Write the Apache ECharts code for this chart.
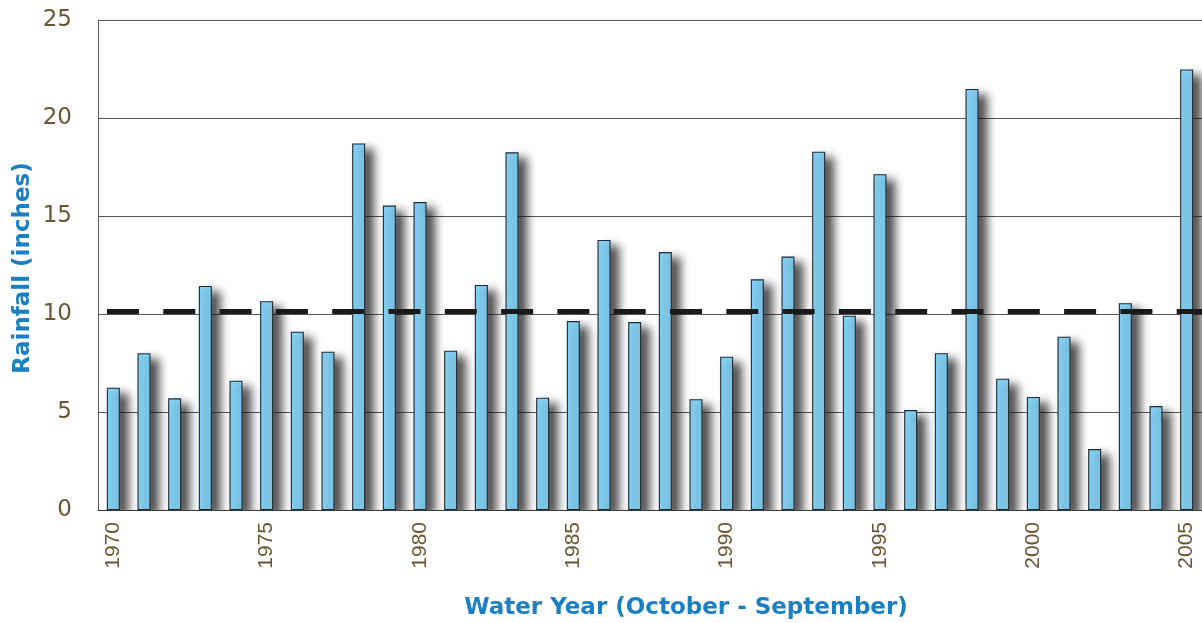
<!DOCTYPE html>
<html>
<head>
<meta charset="utf-8">
<title>Annual Rainfall by Water Year</title>
<script src="https://cdn.jsdelivr.net/npm/echarts@6/dist/echarts.min.js"></script>
<style>
  html, body { margin: 0; padding: 0; background: #ffffff; }
  #chart { width: 1202px; height: 623px; }
</style>
</head>
<body>
<div id="chart"></div>
<script>
// Water years (October - September)
const waterYears = [
  '1970','1971','1972','1973','1974','1975','1976','1977','1978','1979',
  '1980','1981','1982','1983','1984','1985','1986','1987','1988','1989',
  '1990','1991','1992','1993','1994','1995','1996','1997','1998','1999',
  '2000','2001','2002','2003','2004','2005'
];

// Total rainfall per water year, inches
const rainfallInches = [
  6.24, 8.00, 5.70, 11.43, 6.60, 10.65, 9.10, 8.08, 18.70, 15.53,
  15.71, 8.13, 11.48, 18.25, 5.73, 9.64, 13.78, 9.59, 13.16, 5.65,
  7.82, 11.77, 12.93, 18.28, 9.91, 17.13, 5.10, 8.00, 21.48, 6.70,
  5.77, 8.84, 3.11, 10.55, 5.30, 22.48
];

// Long-term average rainfall, inches
const averageRainfall = 10.12;

// Value axis range
const yMin = 0;
const yMax = 25;
const yStep = 5;

const tickColor = '#6b5634';
const titleColor = '#1b7fc4';

const chart = echarts.init(document.getElementById('chart'));

chart.setOption({
  backgroundColor: '#ffffff',
  animation: false,
  grid: { left: 98, right: -4, top: 20, bottom: 113 },
  xAxis: {
    type: 'category',
    z: 110,
    data: waterYears,
    boundaryGap: true,
    axisLine: { show: true, lineStyle: { color: '#3a3a3a', width: 1.2 } },
    axisTick: { show: false },
    axisLabel: {
      interval: function (index, value) { return Number(value) % 5 === 0; },
      rotate: 90,
      margin: 12,
      color: tickColor,
      fontFamily: 'Liberation Sans',
      fontSize: 21
    },
    splitLine: { show: false }
  },
  yAxis: {
    type: 'value',
    min: yMin,
    max: yMax,
    interval: yStep,
    axisLine: { show: true, lineStyle: { color: '#5a5a5a', width: 1 } },
    axisTick: { show: false },
    axisLabel: {
      margin: 26,
      color: tickColor,
      fontFamily: 'DejaVu Sans',
      fontSize: 23
    },
    splitLine: { show: true, lineStyle: { color: '#555555', width: 1 } }
  },
  graphic: [
    {
      // keeps the bar shadows from spilling below the baseline
      type: 'rect',
      z: 100,
      silent: true,
      shape: { x: 90, y: 511, width: 1120, height: 20 },
      style: { fill: '#ffffff' }
    },
    {
      type: 'text',
      x: 23,
      y: 268,
      rotation: Math.PI / 2,
      style: {
        text: 'Rainfall (inches)',
        fill: titleColor,
        font: 'bold 23px "DejaVu Sans"',
        align: 'center',
        verticalAlign: 'middle'
      }
    },
    {
      type: 'text',
      x: 686,
      y: 608,
      style: {
        text: 'Water Year (October - September)',
        fill: titleColor,
        font: 'bold 23px "DejaVu Sans"',
        align: 'center',
        verticalAlign: 'middle'
      }
    }
  ],
  series: [
    {
      type: 'bar',
      data: rainfallInches,
      barWidth: 13,
      itemStyle: {
        color: '#86d3f6',
        borderColor: '#1d2b35',
        borderWidth: 1.1,
        shadowColor: 'rgba(15,15,15,0.8)',
        shadowBlur: 10,
        shadowOffsetX: 8,
        shadowOffsetY: 6
      },
      markLine: {
        silent: true,
        symbol: ['none', 'none'],
        label: { show: false },
        lineStyle: {
          color: '#1a1a1a',
          width: 5,
          type: [32, 24.3],
          dashOffset: 47.3
        },
        data: [{ yAxis: averageRainfall }]
      }
    }
  ]
});
</script>
</body>
</html>
